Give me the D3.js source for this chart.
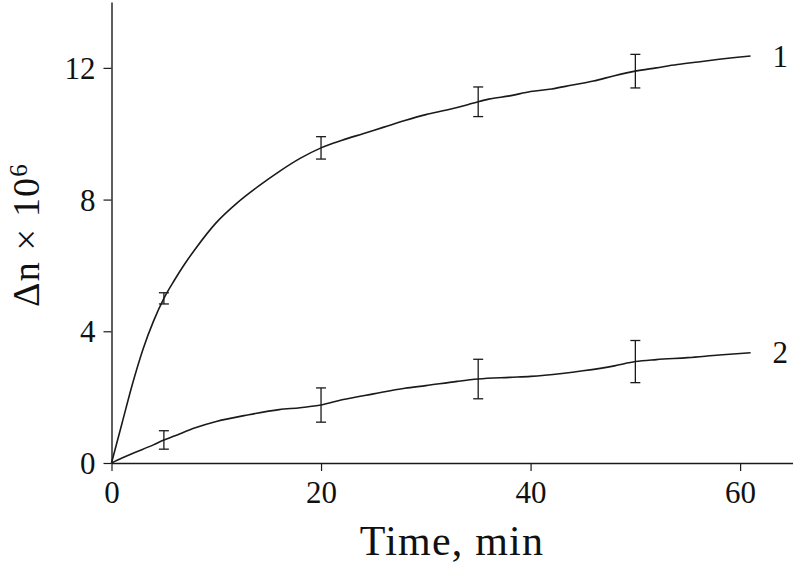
<!DOCTYPE html>
<html><head><meta charset="utf-8">
<script src="https://cdn.jsdelivr.net/npm/d3@7"></script>
<style>
body{margin:0;background:#fff;}
svg{display:block;}
text{font-family:"Liberation Serif","DejaVu Serif",serif;fill:#111;}
</style></head>
<body>
<svg id="chart" width="794" height="563"></svg>
<script>
// ---- data ----
const curve1X = [0,1,2,3,4,5,6,7,8,10,12,14,16,18,20,22,24,26,28,30,32,34,35,36,38,40,42,44,46,48,50,52,54,56,58,60,61];
const curve1Y = [0,1.2,2.4,3.45,4.3,5.0,5.55,6.05,6.5,7.3,7.9,8.4,8.85,9.25,9.57,9.8,10.0,10.2,10.4,10.58,10.72,10.88,10.97,11.05,11.15,11.28,11.36,11.48,11.6,11.76,11.9,12.0,12.1,12.18,12.26,12.33,12.36];
const curve2X = [0,1,2,4,5,6,8,10,13,16,18,20,22,25,28,30,33,35,38,40,43,45,48,50,52,55,58,61];
const curve2Y = [0,0.15,0.29,0.55,0.70,0.82,1.07,1.26,1.46,1.62,1.68,1.76,1.92,2.1,2.27,2.35,2.48,2.55,2.6,2.63,2.72,2.8,2.95,3.08,3.14,3.2,3.28,3.35];
const err1X = [5,20,35,50];
const err1Y = [5.0,9.57,10.97,11.9];
const err1E = [0.17,0.34,0.45,0.51];
const err2X = [5,20,35,50];
const err2Y = [0.70,1.76,2.55,3.08];
const err2E = [0.28,0.52,0.6,0.64];
const curveLabels = ["1","2"];
const xTicks = [0,20,40,60];
const yTicks = [0,4,8,12];
const xTitle = "Time, min";

// ---- chart ----
const svg = d3.select("#chart");
const x = d3.scaleLinear().domain([0,65]).range([111.5,792.5]);
const y = d3.scaleLinear().domain([0,14]).range([463,2]);
const ink = "#1a1a1a";

const xAxis = svg.append("g").attr("transform","translate(0,463)")
  .call(d3.axisBottom(x).tickValues(xTicks).tickSize(8).tickSizeOuter(0).tickPadding(10));
const yAxis = svg.append("g").attr("transform","translate(111.5,0)")
  .call(d3.axisLeft(y).tickValues(yTicks).tickSize(8).tickSizeOuter(0).tickPadding(8));
[xAxis,yAxis].forEach(g=>{
  g.select(".domain").attr("stroke",ink).attr("stroke-width",1.4);
  g.selectAll(".tick line").attr("stroke",ink).attr("stroke-width",1.2);
  g.selectAll(".tick text").style("font-family","'Liberation Serif',serif").style("font-size","31px").attr("fill",ink);
});
yAxis.selectAll(".tick text").attr("dy","0.34em");

const line = d3.line().x(d=>x(d[0])).y(d=>y(d[1])).curve(d3.curveMonotoneX);
const series = [
  {xs:curve1X, ys:curve1Y, ex:err1X, ey:err1Y, ee:err1E, label:curveLabels[0]},
  {xs:curve2X, ys:curve2Y, ex:err2X, ey:err2Y, ee:err2E, label:curveLabels[1]}
];
series.forEach(s=>{
  const pts = s.xs.map((v,i)=>[v,s.ys[i]]);
  svg.append("path").datum(pts).attr("d",line).attr("fill","none")
    .attr("stroke",ink).attr("stroke-width",1.6);
  const eb = svg.append("g");
  s.ex.forEach((v,i)=>{
    const cx = x(v), t = y(s.ey[i]+s.ee[i]), b = y(s.ey[i]-s.ee[i]);
    eb.append("line").attr("x1",cx).attr("x2",cx).attr("y1",t).attr("y2",b).attr("stroke",ink).attr("stroke-width",1.3);
    eb.append("line").attr("x1",cx-5).attr("x2",cx+5).attr("y1",t).attr("y2",t).attr("stroke",ink).attr("stroke-width",1.3);
    eb.append("line").attr("x1",cx-5).attr("x2",cx+5).attr("y1",b).attr("y2",b).attr("stroke",ink).attr("stroke-width",1.3);
  });
  const last = pts[pts.length-1];
  svg.append("text").attr("x",x(last[0])+22).attr("y",y(last[1])).attr("dy","0.34em")
    .style("font-size","31px").text(s.label);
});

svg.append("text").attr("x",452).attr("y",555).attr("text-anchor","middle")
  .style("font-size","42px").style("letter-spacing","1.2px").text(xTitle);

const yl = svg.append("text").attr("transform","translate(39,235) rotate(-90)")
  .attr("text-anchor","middle").style("font-size","38px").style("letter-spacing","1.2px");
yl.append("tspan").text("Δn × 10");
yl.append("tspan").attr("dy","-12").style("font-size","25px").text("6");
</script>
</body></html>
